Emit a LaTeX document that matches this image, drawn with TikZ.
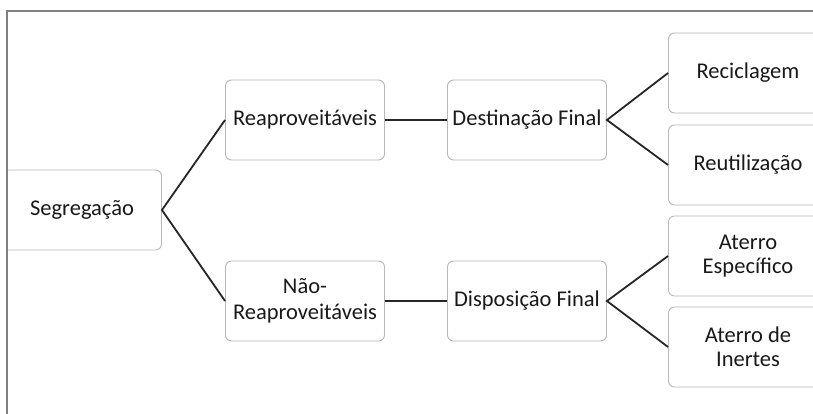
\documentclass[tikz,border=0pt]{standalone}
\usepackage{fontspec}
\setmainfont{Carlito}
\usepackage{tikz}

\begin{document}
\begin{tikzpicture}[x = 1pt, y = -1pt, font = \fontsize{22.5}{26}\selectfont,
        box/.style = {draw = black!28, line width = 0.9pt, rounded corners = 6pt, fill = white,
                minimum width = 159pt, minimum height = 80pt, align = center, text = black!90},
        tight/.style = {font = \fontsize{22.5}{23.5}\selectfont},
        link/.style = {line width = 1.8pt, draw = black!85}]
        \clip (0,0) rectangle (813,414);
        \fill[white] (0,0) rectangle (813,414);
        
        \node[box] (seg) at (82,210) {Segregação};
        \node[box] (reap) at (305,120) {Reaproveitáveis};
        \node[box] (naoreap) at (305,301) {Não-\\Reaproveitáveis};
        \node[box] (dest) at (527,120) {Destinação Final};
        \node[box] (disp) at (527,301) {Disposição Final};
        \node[box] (recic) at (748,73) {Reciclagem};
        \node[box] (reut) at (748,165) {Reutilização};
        \node[box, tight] (atesp) at (748,256) {Aterro\\Específico};
        \node[box, tight] (atin) at (748,347) {Aterro de\\Inertes};
        
        % frame of the figure, over the cut edge of the first box
        \fill[white] (0,0) rectangle (7,414);
        \draw[gray, line width = 1.3pt] (7,414) -- (7,11) -- (813,11);
        
        \draw[link] (reap.west) -- (seg.east) -- (naoreap.west);
        \draw[link] (reap) -- (dest);
        \draw[link] (naoreap) -- (disp);
        \draw[link] (recic.west) -- (dest.east) -- (reut.west);
        \draw[link] (atesp.west) -- (disp.east) -- (atin.west);
\end{tikzpicture}
\end{document}
